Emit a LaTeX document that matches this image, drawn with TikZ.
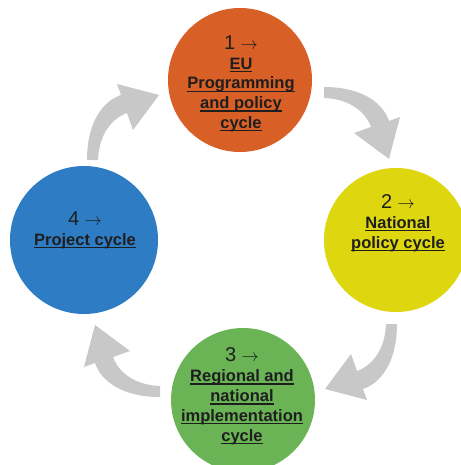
\documentclass[tikz,border=0pt]{standalone}
\usepackage{fontspec}
\setmainfont{Liberation Sans}
\usetikzlibrary{positioning}
\definecolor{euorange}{RGB}{216,96,38}
\definecolor{natyellow}{RGB}{222,214,14}
\definecolor{reggreen}{RGB}{106,180,86}
\definecolor{projblue}{RGB}{46,124,196}
\definecolor{arrowgray}{RGB}{200,200,200}
\definecolor{ink}{RGB}{30,30,30}
\newcommand{\lnk}[1]{\setbox0\hbox{#1}\rlap{\rule[-3pt]{\wd0}{1.3pt}}\box0}
\newcommand{\stepno}[1]{{\fontsize{20}{19.8}\selectfont\mdseries #1 {\fontsize{17}{19.8}\selectfont$\rightarrow$}}}
\tikzset{phase/.style = {circle, inner sep = 0, minimum size = 144}}
\tikzset{lbl/.style = {anchor = north, inner sep = 0, align = center, text = ink,
                       font = \fontsize{16.5}{19.8}\selectfont\bfseries}}
\tikzset{turn/.pic = {\fill [arrowgray] (-155, -82) .. controls (-155, -120) and (-139, -141) .. (-121, -147)
                        -- (-125, -158) -- (-83, -147) -- (-109, -112) -- (-115, -129)
                        .. controls (-129, -124) and (-143, -109) .. (-144, -82) -- cycle;}}

\begin{document}
\begin{tikzpicture}[x = 1pt, y = -1pt]
    \fill [white] (0, 0) rectangle (460, 465);
    \useasboundingbox (0, 0) rectangle (460, 465);
    \coordinate (hub) at (242, 242);
    \pic at (hub) {turn};
    \pic [rotate = -90] at (hub) {turn};
    \pic [rotate = -180] at (hub) {turn};
    \pic [rotate = -270] at (hub) {turn};
    \node [phase, fill = euorange] (c1) at (240, 80) {};
    \node [phase, fill = natyellow] (c2) at (396, 240) {};
    \node [phase, fill = reggreen] (c3) at (243, 400) {};
    \node [phase, fill = projblue, minimum size = 148] (c4) at (84, 240) {};
    \node [lbl, below = 27.5pt of c1.north, xshift = 1pt] (t1)
      {\stepno{1}\\ \lnk{EU}\\ \lnk{Programming}\\ \lnk{and policy}\\ \lnk{cycle}};
    \node [lbl, below = 26.5pt of c2.north, xshift = 2pt] (t2)
      {\stepno{2}\\ \lnk{National}\\ \lnk{policy cycle}};
    \node [lbl, below = 20pt of c3.north, xshift = -1pt] (t3)
      {\stepno{3}\\ \lnk{Regional and}\\ \lnk{national}\\ \lnk{implementation}\\ \lnk{cycle}};
    \node [lbl, below = 45.5pt of c4.north, xshift = 1pt] (t4)
      {\stepno{4}\\ \lnk{Project cycle}};
  \end{tikzpicture}
\end{document}
